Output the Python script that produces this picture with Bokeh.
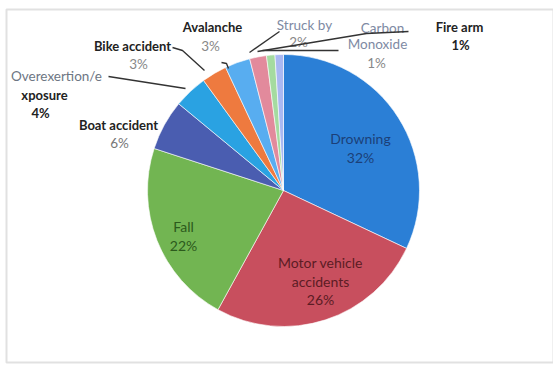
import math
from bokeh.plotting import figure
from bokeh.models import Range1d, ColumnDataSource, BoxAnnotation
from bokeh.core.properties import value
from bokeh.embed import file_html
from bokeh.resources import INLINE

categories = ["Drowning", "Motor vehicle accidents", "Fall", "Boat accident",
              "Overexertion/exposure", "Bike accident", "Avalanche", "Struck by",
              "Carbon Monoxide", "Fire arm"]
percents = [32, 26, 22, 6, 4, 3, 3, 2, 1, 1]
colors = ["#2b7fd6", "#c84f5e", "#72b552", "#4a5db0", "#2aa2e2",
          "#ee7a3f", "#58adf0", "#e28a9c", "#a5dba0", "#a9b8f2"]

# angles (clockwise from 12 o'clock)
total = sum(percents)
starts, ends = [], []
acc = 0.0
for v in percents:
    starts.append(math.pi / 2 - 2 * math.pi * acc / total)
    acc += v
    ends.append(math.pi / 2 - 2 * math.pi * acc / total)

W, H = 553, 365
p = figure(width=W, height=H, output_backend="svg", toolbar_location=None,
           x_range=Range1d(0, W), y_range=Range1d(0, H), min_border=0)
p.axis.visible = False
p.grid.visible = False
p.outline_line_color = None
p.background_fill_color = "white"

# chart border
p.add_layout(BoxAnnotation(left=6, right=553, bottom=3, top=356,
                           fill_alpha=0, line_color="#9a9a9a", line_width=2))

cx, cy, r = 283, 175, 136
src = ColumnDataSource(dict(start=starts, end=ends, color=colors))
p.wedge(x=cx, y=cy, radius=r, start_angle="start", end_angle="end",
        direction="clock", fill_color="color", line_color="white",
        line_width=0.6, source=src)

font = value("Lato")

def label(lines, x, y, color, size="13.5px", style="normal", dy=18.5):
    for i, t in enumerate(lines):
        p.text(x=[x], y=[H - y - i * dy], text=[t], text_font=font,
               text_font_size=size, text_color=color, text_align="center",
               text_baseline="middle", text_font_style=style)

B = "13px"
# inside labels
label(["Drowning", "32%"], 360, 138, "#1c3f78", size="14px")
label(["Motor vehicle", "accidents", "26%"], 320, 262, "#5c1c24", size="14px")
label(["Fall", "22%"], 183, 226, "#2c5a1c", size="14px")

# outside labels
label(["Boat accident"], 118, 124, "#222222", size=B, style="bold")
label(["6%"], 119, 142, "#777777")
label(["Overexertion/e"], 56, 75, "#6d7683")
label(["xposure"], 44, 94, "#222222", size=B, style="bold")
label(["4%"], 40, 112, "#222222", size=B, style="bold")
label(["Bike accident"], 132, 45, "#222222", size=B, style="bold")
label(["3%"], 138, 63, "#888888")
label(["Avalanche"], 212, 26, "#222222", size=B, style="bold")
label(["3%"], 210, 45, "#888888")
label(["Struck by"], 304, 24, "#7e8aa3")
label(["2%"], 298, 41, "#888888")
label(["Carbon"], 382, 27, "#7e8aa3")
label(["Monoxide"], 377, 43, "#7e8aa3")
label(["1%"], 376, 62, "#888888")
label(["Fire arm"], 459, 26, "#222222", size=B, style="bold")
label(["1%"], 460, 44, "#222222", size=B, style="bold")

# leader lines
leaders = [
    ([172, 182, 204], [47, 50, 70]),
    ([108, 185], [76, 88]),
    ([221, 226, 228], [62, 63, 68]),
    ([279, 249], [31, 52]),
    ([408, 366, 257], [31, 33, 51]),
    ([338, 262], [50, 50]),
]
for xs, ys in leaders:
    p.line(xs, [H - y for y in ys], line_color="#333333", line_width=1.4)

open("out.html", "w").write(file_html(p, INLINE))
